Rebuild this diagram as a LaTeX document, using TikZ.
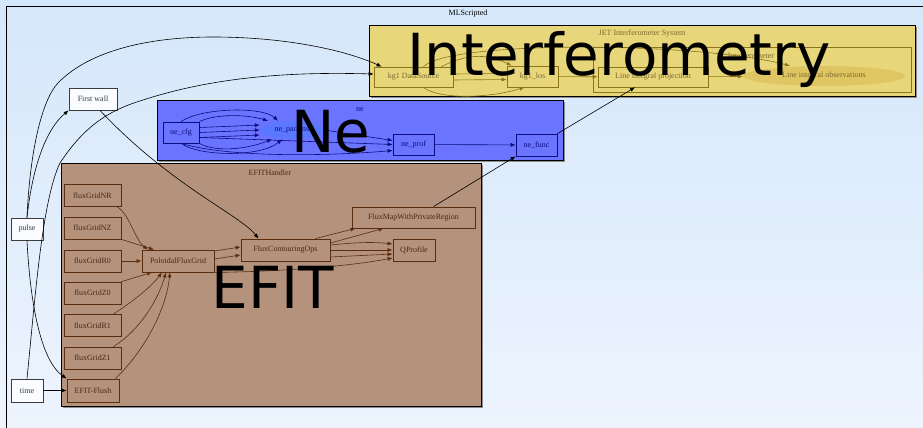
\documentclass[tikz,border=0pt]{standalone}
\usepackage{fontspec}
\setmainfont{Liberation Serif}
\newfontfamily\bigsans{DejaVu Sans}
\usepackage{xcolor}
\usepackage{tikz}
\usetikzlibrary{arrows.meta,positioning,shapes.geometric,calc}
\definecolor{cSky}{HTML}{D5E7FA}
\definecolor{cSkyLow}{HTML}{EDF4FE}
\definecolor{cJet}{HTML}{E8D67A}
\definecolor{cJetLine}{HTML}{8C7418}
\definecolor{cJetText}{HTML}{7A6A2E}
\definecolor{cJetObs}{HTML}{E0C662}
\definecolor{cNe}{HTML}{6B74FF}
\definecolor{cNeLine}{HTML}{0C0C80}
\definecolor{cNePar}{HTML}{5A78FF}
\definecolor{cEfit}{HTML}{B4927C}
\definecolor{cEfitLine}{HTML}{5A2D0E}
\definecolor{cEfitText}{HTML}{4A2814}
\definecolor{cGrey}{HTML}{3C3C3C}
\definecolor{cShade}{HTML}{8E8E8E}
\tikzset{
  lab/.style={font=\fontsize{8}{9}\selectfont, inner sep=0pt},
  ext/.style={lab, draw=cGrey, fill=white!70!cSkyLow, text=cGrey, line width=0.8pt},
  jetbox/.style={lab, draw=cJetLine, fill=cJet, text=cJetText, line width=0.7pt},
  nebox/.style={lab, draw=cNeLine, fill=cNe, text=cNeLine, line width=0.7pt},
  efitbox/.style={lab, draw=cEfitLine, fill=cEfit, text=cEfitText, line width=0.8pt},
  cluster/.style={draw=black, line width=0.8pt, fill=#1},
  title/.style={lab, text=#1},
  bigtag/.style={font=\bigsans\fontsize{58}{60}\selectfont, inner sep=0pt, text=black},
  flow/.style={-{Latex[length=5pt,width=4pt]}, line width=0.6pt, draw=#1},
}

\begin{document}
\begin{tikzpicture}[x=1pt, y=-1pt]
  \useasboundingbox (0,0) rectangle (923,428);
  \shade[top color=cSky, bottom color=cSkyLow] (0,0) rectangle (923,428);

  % outer cluster
  \draw[line width=0.8pt] (6,440) -- (6,6) -- (935,6);
  \node[title=black] (tML) at (468,14) {MLScripted};

  % clusters
  \fill[cShade] (371,27) rectangle (917,98);
  \filldraw[cluster=cJet] (369,25) rectangle (915,96);
  \node[title=cJetText] (tJet) at (642,34) {JET Interferometer System};
  \draw[cJetLine, line width=0.7pt] (593,47) rectangle (911,92);
  \node[title=cJetText] (tIfm) at (751,56) {Interferometer};

  \fill[cShade] (159,102) rectangle (565,162);
  \filldraw[cluster=cNe] (157,100) rectangle (563,160);
  \node[title=cNeLine] (tNe) at (360,110) {ne};

  \fill[cShade] (63,165) rectangle (483,408);
  \filldraw[cluster=cEfit] (61,163) rectangle (481,406);
  \node[title=cEfitText] (tEfit) at (270,173) {EFITHandler};

  % free nodes
  \node[ext, minimum width=32pt, minimum height=22pt] (pulse) at (27,229) {pulse};
  \node[ext, minimum width=32pt, minimum height=23pt] (time) at (27,390.5) {time};
  \node[ext, minimum width=48pt, minimum height=22pt] (fwall) at (93,99) {First wall};

  % interferometer
  \node[jetbox, minimum width=79pt, minimum height=20pt] (kgds) at (413.5,77) {kg1 DataSource};
  \node[jetbox, minimum width=51pt, minimum height=21pt] (kglos) at (532.5,76.5) {kg1\_los};
  \node[jetbox, minimum width=110pt, minimum height=20pt] (lip) at (653,77) {Line integral projection};
  \node[lab, ellipse, fill=cJetObs, text=cJetText, minimum width=162pt, minimum height=20pt] (lio) at (824,76) {Line integral observations};

  % ne
  \node[nebox, minimum width=36pt, minimum height=21pt] (necfg) at (181,132.5) {ne\_cfg};
  \node[lab, ellipse, fill=cNePar, text=cNeLine, minimum width=64pt, minimum height=18pt] (nepar) at (292,130) {ne\_params};
  \node[nebox, minimum width=41pt, minimum height=21pt] (neprof) at (413.5,144.5) {ne\_prof};
  \node[nebox, minimum width=41pt, minimum height=22pt] (nefunc) at (536.5,145) {ne\_func};

  % efit
  \node[efitbox, minimum width=57pt, minimum height=22pt] (gNR) at (92.5,195.5) {fluxGridNR};
  \node[efitbox, minimum width=57pt, minimum height=22pt] (gNZ) at (92.5,228) {fluxGridNZ};
  \node[efitbox, minimum width=57pt, minimum height=22pt] (gR0) at (92.5,261) {fluxGridR0};
  \node[efitbox, minimum width=57pt, minimum height=22pt] (gZ0) at (92.5,293) {fluxGridZ0};
  \node[efitbox, minimum width=57pt, minimum height=22pt] (gR1) at (92.5,325.5) {fluxGridR1};
  \node[efitbox, minimum width=57pt, minimum height=22pt] (gZ1) at (92.5,358) {fluxGridZ1};
  \node[efitbox, minimum width=52pt, minimum height=23pt] (flush) at (93,390.5) {EFIT-Flush};
  \node[efitbox, minimum width=72pt, minimum height=22pt] (pfg) at (178,261) {PoloidalFluxGrid};
  \node[efitbox, minimum width=89pt, minimum height=22pt] (fco) at (285.5,250) {FluxContouringOps};
  \node[efitbox, minimum width=123pt, minimum height=21pt] (fmap) at (413.5,217.5) {FluxMapWithPrivateRegion};
  \node[efitbox, minimum width=42pt, minimum height=22pt] (qprof) at (414,250) {QProfile};

  % edges from outside
  \draw[flow=black] (pulse.north) .. controls (30,150) and (42,100) .. (58,83)
        .. controls (90,50) and (150,37) .. (213,37) .. controls (285,37) and (345,50) .. ([xshift=8pt]kgds.north west);
  \draw[flow=black] (time.north) .. controls (35,300) and (42,200) .. (60,163)
        .. controls (85,125) and (110,110) .. (143,100) .. controls (220,75) and (300,72) .. ([yshift=3pt]kgds.west);
  \draw[flow=black] (pulse.north) .. controls (32,170) and (45,130) .. (fwall.south west);
  \draw[flow=black] (pulse.south) .. controls (30,300) and (40,360) .. (flush.north west);
  \draw[flow=black] (time) -- (flush);
  \draw[flow=black] ([xshift=7pt]fwall.south) .. controls (170,185) and (240,215) .. ([xshift=-27pt]fco.north);
  \draw[flow=black] ([xshift=20pt]fmap.north) -- (nefunc.south west);
  \draw[flow=black] (nefunc.north east) -- ([xshift=-18pt]lip.south);

  % interferometer edges
  \draw[flow=cJetLine] ([xshift=-12pt]kgds.north east) .. controls (470,52) and (490,55) .. ([xshift=5pt]kglos.north west);
  \draw[flow=cJetLine] ([yshift=3pt]kgds.east) -- ([yshift=3pt]kglos.west);
  \draw[flow=cJetLine] ([yshift=-3pt]kgds.east) -- ([yshift=-3pt]kglos.west);
  \draw[flow=cJetLine] ([xshift=-30pt]kgds.south east) .. controls (440,100) and (490,98) .. ([xshift=-8pt]kglos.south);
  \draw[flow=cJetLine] ([xshift=10pt]kgds.north) .. controls (450,40) and (700,42) .. ([xshift=-34pt]lio.north);
  \draw[flow=cJetLine] (kglos) -- (lip);
  \draw[flow=cJetLine] (lip) -- (lio);

  % ne edges
  \draw[flow=cNeLine] (necfg.north) .. controls (200,108) and (262,106) .. ([xshift=-14pt]nepar.north);
  \draw[flow=cNeLine] (necfg.north east) .. controls (215,114) and (245,114) .. ([xshift=-24pt]nepar.north);
  \draw[flow=cNeLine] ([yshift=5pt]necfg.east) -- ([yshift=5pt]nepar.west);
  \draw[flow=cNeLine] (necfg.east) -- (nepar.west);
  \draw[flow=cNeLine] ([yshift=-5pt]necfg.east) -- ([yshift=-5pt]nepar.west);
  \draw[flow=cNeLine] (necfg.south east) .. controls (215,152) and (245,150) .. ([xshift=-20pt]nepar.south);
  \draw[flow=cNeLine] (necfg.south) .. controls (200,157) and (262,157) .. ([xshift=-10pt]nepar.south);
  \draw[flow=cNeLine] (nepar.east) -- ([yshift=4pt]neprof.west);
  \draw[flow=cNeLine] ([yshift=-5pt]necfg.east) -- (neprof.west);
  \draw[flow=cNeLine] (necfg.south) .. controls (230,158) and (330,156) .. ([yshift=-6pt]neprof.west);
  \draw[flow=cNeLine] (neprof) -- (nefunc);

  % efit edges
  \draw[flow=cEfitLine] ([xshift=-4pt]gNR.south east) .. controls (130,215) and (135,240) .. ([xshift=-30pt]pfg.north);
  \draw[flow=cEfitLine] (gNZ.south east) -- ([xshift=-24pt]pfg.north);
  \draw[flow=cEfitLine] (gR0) -- (pfg);
  \draw[flow=cEfitLine] (gZ0.north east) -- ([xshift=-26pt]pfg.south);
  \draw[flow=cEfitLine] ([xshift=-8pt]gR1.north east) .. controls (135,300) and (152,286) .. ([xshift=-16pt]pfg.south);
  \draw[flow=cEfitLine] ([xshift=-8pt]gZ1.north east) .. controls (140,330) and (158,300) .. ([xshift=-12pt]pfg.south);
  \draw[flow=cEfitLine] ([xshift=-4pt]flush.north east) .. controls (145,350) and (166,310) .. ([xshift=-8pt]pfg.south);
  \draw[flow=cEfitLine] ([yshift=10pt]pfg.east) -- ([yshift=3pt]fco.west);
  \draw[flow=cEfitLine] ([yshift=2pt]pfg.east) -- ([yshift=-5pt]fco.west);
  \draw[flow=cEfitLine] (pfg.south east) .. controls (260,272) and (340,268) .. ([yshift=-8pt]qprof.west);
  \draw[flow=cEfitLine] ([xshift=-15pt]fco.north east) -- ([xshift=-58pt]fmap.south);
  \draw[flow=cEfitLine] ([yshift=7pt]fco.east) -- ([xshift=-30pt]fmap.south);
  \draw[flow=cEfitLine] ([yshift=5pt]fco.east) .. controls (360,242) and (375,242) .. ([yshift=6pt]qprof.west);
  \draw[flow=cEfitLine] (fco.east) -- (qprof.west);
  \draw[flow=cEfitLine] ([yshift=-7pt]fco.east) -- ([yshift=-4pt]qprof.west);

  % big tags
  \node[bigtag, anchor=base] (bInterf) at (619,75) {Interferometry};
  \node[bigtag, anchor=base] (bNe) at (331,152) {Ne};
  \node[bigtag, anchor=base] (bEfit) at (273,308) {EFIT};
\end{tikzpicture}
\end{document}
